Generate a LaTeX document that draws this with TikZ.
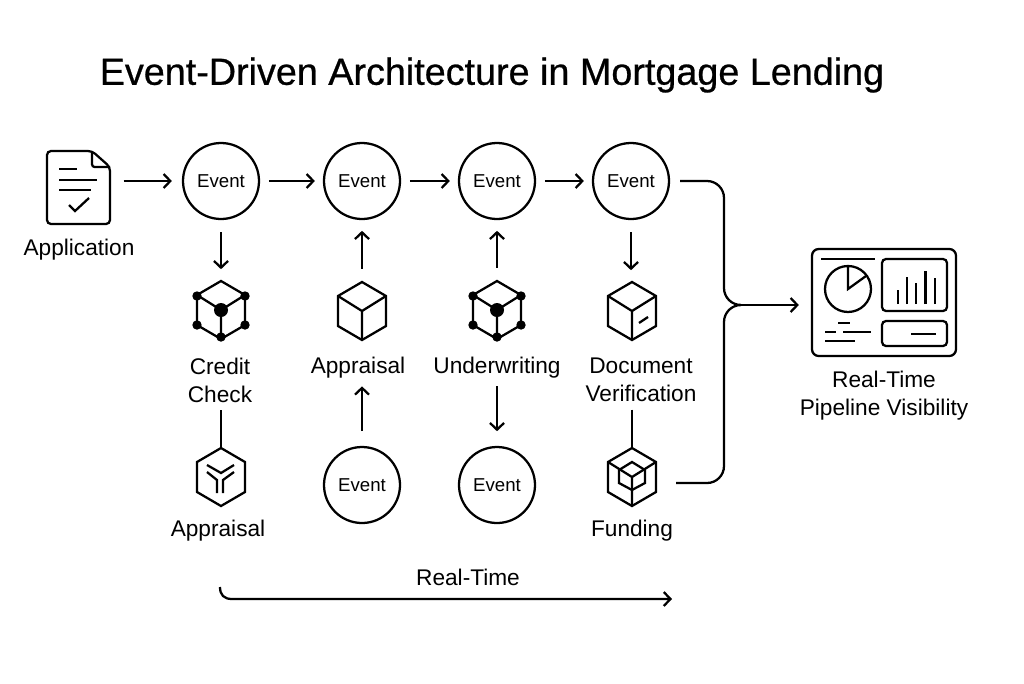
\documentclass[tikz,border=0pt]{standalone}
\usepackage{fontspec}
\setmainfont{Liberation Sans}
\newfontfamily\titlefont[FakeBold=0.7]{Liberation Sans}
\usetikzlibrary{arrows.meta,positioning,calc}
\tikzstyle{vertex}=[draw,circle,minimum size=57pt,inner sep=0pt,font=\fontsize{14}{16}\selectfont]
\tikzstyle{iconbox}=[minimum width=36pt,minimum height=43.5pt,inner sep=0pt]
\tikzstyle{label}=[align=center,inner sep=0pt,font=\fontsize{17}{21}\selectfont]
\tikzstyle{barb}=[-{Straight Barb[length=5pt,width=10.5pt]}]
\tikzstyle{flow}=[barb,shorten <=6.5pt,shorten >=6pt]
\tikzstyle{flowv}=[barb,shorten <=9pt,shorten >=8pt]
\tikzset{
  hexframe/.pic={\draw (0,-29)--(24,-15)--(24,15)--(0,29)--(-24,15)--(-24,-15)--cycle;},
  plaincube/.pic={\pic {hexframe}; \draw (-24,-15)--(0,0)--(24,-15) (0,0)--(0,29);},
  netcube/.pic={\pic {plaincube};
    \fill (0,0) circle (7);
    \foreach \dotx/\doty in {-24/-14,24/-14,-24/15,24/15,0/27} \fill (\dotx,\doty) circle (4.7);},
  slotcube/.pic={\pic {plaincube}; \draw (7,12)--(16,6);},
  nestcube/.pic={\pic {plaincube};
    \draw (0,-15)--(13,-7)--(13,6)--(0,13)--(-13,6)--(-13,-7)--cycle;},
  forkhex/.pic={\pic {hexframe};
    \draw (-14,-12)--(0,-4)--(13,-12) (-14,-5)--(-4,3)--(-4,16) (13,-5)--(2,3)--(2,16);},
}
\begin{document}
\begin{tikzpicture}[x=0.75pt,y=-0.75pt,line width=1.7pt]
\useasboundingbox (0,0) rectangle (1024,683);
\node [inner sep=0pt,font=\titlefont\fontsize{28.3}{34}\selectfont] (title) at (492,75) {Event-Driven Architecture in Mortgage Lending};

\node [iconbox,minimum width=47pt,minimum height=54.5pt] (app) at (78.5,187.5) {};
\node [label] (applbl) at (79,250) {Application};
\node [vertex] (ev1) at (221,181) {Event};
\node [vertex] (ev2) at (362,181) {Event};
\node [vertex] (ev3) at (497,181) {Event};
\node [vertex] (ev4) at (631,181) {Event};
\node [vertex] (ev5) at (362,485) {Event};
\node [vertex] (ev6) at (497,485) {Event};

\node [iconbox] (credit) at (221,310) {};
\node [iconbox] (appr) at (362,311) {};
\node [iconbox] (under) at (497,310) {};
\node [iconbox] (docver) at (632,311) {};
\node [iconbox] (fork) at (221,477) {};
\node [iconbox] (fund) at (632,477) {};
\pic at (credit) {netcube};
\pic at (appr) {plaincube};
\pic at (under) {netcube};
\pic at (docver) {slotcube};
\pic at (fork) {forkhex};
\pic at (fund) {nestcube};

\node [label] (creditlbl) at (220,380) {Credit\\Check};
\node [label] (apprlbl) at (358,368) {Appraisal};
\node [label] (underlbl) at (497,368) {Underwriting};
\node [label] (doclbl) at (641,380) {Document\\Verification};
\node [label] (forklbl) at (218,531) {Appraisal};
\node [label] (fundlbl) at (632,531) {Funding};
\node [label] (timelbl) at (468,577) {Real-Time};

\draw [rounded corners=3pt] (47,151) -- (92,151) -- (110,167) -- (110,224) -- (47,224) -- cycle;
\draw [rounded corners=2pt] (92,151) -- (92,167) -- (110,167);
\draw (59,169) -- (77,169) (59,180) -- (97,180) (59,190) -- (91,190);
\draw (69,205) -- (75,211) -- (89,198);

\node [inner sep=0pt,minimum width=108pt,minimum height=80.25pt] (dash) at (884,302.5) {};
\draw [rounded corners=5pt] (812,249) rectangle (956,356);
\draw (821,259) -- (875,259);
\draw [rounded corners=3pt] (882,259) rectangle (947,311);
\draw (848,289) circle (23);
\draw (848,266) -- (848,289) -- (866,276);
\foreach \barx/\bartop in {898/290,907/277,916/283,925.5/271,935/278} \draw (\barx,304) -- (\barx,\bartop);
\draw [rounded corners=3pt] (882,321) rectangle (947,346);
\draw (911,334) -- (936,334);
\draw (838,323) -- (850,323) (825,332) -- (836,332) (843,332) -- (871,332) (825,341) -- (855,341);
\node [label] (dashlbl) at (884,396) {Real-Time\\Pipeline Visibility};

\draw [flow,shorten <=9.5pt,shorten >=7.5pt] (app.east |- ev1) -- (ev1);
\draw [flow] (ev1) -- (ev2);
\draw [flow] (ev2) -- (ev3);
\draw [flow] (ev3) -- (ev4);
\draw [flowv] (ev1) -- (credit);
\draw [flowv] (appr) -- (ev2);
\draw [flowv] (under) -- (ev3);
\draw [flowv] (ev4) -- (ev4 |- docver.north);
\draw [flowv,shorten <=11pt,shorten >=5pt] (ev5) -- (ev5 |- apprlbl.south);
\draw [flowv,shorten <=5pt,shorten >=11pt] (ev6 |- underlbl.south) -- (ev6);
\draw [shorten <=5pt] (fork |- creditlbl.south) -- (fork);
\draw [shorten <=5pt] (fund |- doclbl.south) -- (fund);

\coordinate (merge) at (741,305);
\draw [shorten <=7.5pt] (ev4.east) -- (707,181) to[out=0,in=90] (724,198) -- (724,288) to[out=-90,in=180] (merge);
\draw (fund.east) ++(19,6) -- (707,483) to[out=0,in=-90] (724,466) -- (724,322) to[out=90,in=180] (merge);
\draw [barb,shorten >=9pt] (merge) -- (dash.west |- merge);

\coordinate (timefrom) at (220,587);
\coordinate (timeto) at (672,599);
\draw [barb] (timefrom) .. controls (220,595) and (224,599) .. (232,599) -- (timeto);
\end{tikzpicture}
\end{document}
